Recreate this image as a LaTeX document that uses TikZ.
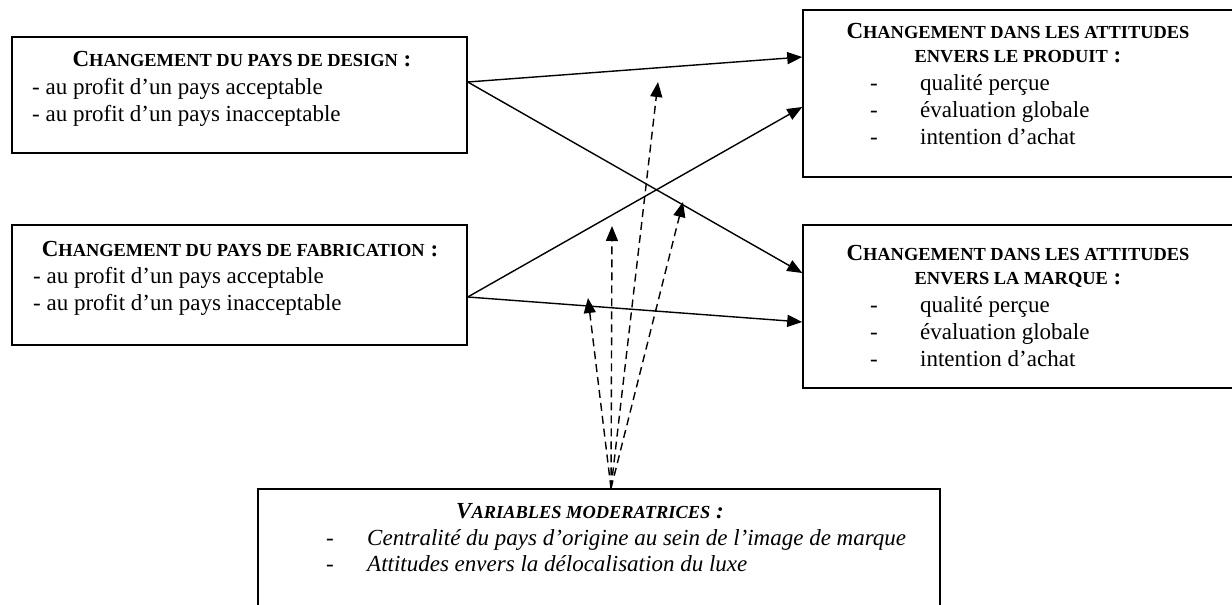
\documentclass[tikz,border=0pt]{standalone}
\usepackage{fontspec}
\setmainfont{Liberation Serif}
\usetikzlibrary{arrows.meta}
\newcommand\smc[1]{{\fontsize{18.4}{26}\selectfont #1}}
\begin{document}
\begin{tikzpicture}[x=1pt,y=-1pt,
  every node/.style={font=\fontsize{23}{26.5}\selectfont, inner sep=0pt},
  boxnode/.style={draw, line width=1.5pt, minimum width=#1},
  txt/.style={anchor=base west},
  ttl/.style={anchor=base, font=\fontsize{23}{26.5}\selectfont\bfseries},
  solidarrow/.style={line width=1.4pt, -{Triangle[length=15pt,width=12pt]}},
  dasharrow/.style={line width=1.4pt, dash pattern=on 8pt off 5pt, -{Triangle[length=15pt,width=12pt]}}
]
\useasboundingbox (0,0) rectangle (1232,605);
% boxes
\node[boxnode=455pt, minimum height=116pt] (b1) at (239.5,95) {};
\node[boxnode=455pt, minimum height=120pt] (b2) at (239.5,285) {};
\node[boxnode=437pt, minimum height=167pt] (b3) at (1021.5,93.5) {};
\node[boxnode=437pt, minimum height=163pt] (b4) at (1021.5,306.5) {};
\node[boxnode=682pt, minimum height=131pt] (b5) at (599,554.5) {};
% box 1 text
\node[ttl] (t1) at (242,66) {C\smc{HANGEMENT DU PAYS DE DESIGN} :};
\node[txt] (t1a) at (32,94) {- au profit d’un pays acceptable};
\node[txt] (t1b) at (32,121) {- au profit d’un pays inacceptable};
% box 2 text
\node[ttl] (t2) at (240,256) {C\smc{HANGEMENT DU PAYS DE FABRICATION} :};
\node[txt] (t2a) at (33,283) {- au profit d’un pays acceptable};
\node[txt] (t2b) at (33,310) {- au profit d’un pays inacceptable};
% box 3 text
\node[ttl] (t3) at (1018,38) {C\smc{HANGEMENT DANS LES ATTITUDES}};
\node[ttl] (t3b) at (1018,62) {\smc{ENVERS LE PRODUIT} :};
\node[txt] (d3a) at (870,90) {-};
\node[txt] (d3b) at (870,117) {-};
\node[txt] (d3c) at (870,144) {-};
\node[txt] (i3a) at (920,90) {qualité perçue};
\node[txt] (i3b) at (920,117) {évaluation globale};
\node[txt] (i3c) at (920,144) {intention d’achat};
% box 4 text
\node[ttl] (t4) at (1018,260) {C\smc{HANGEMENT DANS LES ATTITUDES}};
\node[ttl] (t4b) at (1018,284) {\smc{ENVERS LA MARQUE} :};
\node[txt] (d4a) at (870,312) {-};
\node[txt] (d4b) at (870,339) {-};
\node[txt] (d4c) at (870,366) {-};
\node[txt] (i4a) at (920,312) {qualité perçue};
\node[txt] (i4b) at (920,339) {évaluation globale};
\node[txt] (i4c) at (920,366) {intention d’achat};
% box 5 text
\node[ttl, font=\fontsize{23}{26.5}\selectfont\bfseries\itshape] (t5) at (590,518) {V\smc{ARIABLES MODERATRICES} :};
\node[txt] (d5a) at (326,545) {-};
\node[txt] (d5b) at (326,571) {-};
\node[txt, font=\fontsize{23}{26.5}\selectfont\itshape] (i5a) at (367,545) {Centralité du pays d’origine au sein de l’image de marque};
\node[txt, font=\fontsize{23}{26.5}\selectfont\itshape] (i5b) at (367,571) {Attitudes envers la délocalisation du luxe};
% solid arrows
\draw[solidarrow] ([yshift=13pt]b1.east) -- ([yshift=36.5pt]b3.west);
\draw[solidarrow] ([yshift=13pt]b1.east) -- ([yshift=33.5pt]b4.west);
\draw[solidarrow] ([yshift=-12pt]b2.east) -- ([yshift=-13.5pt]b3.west);
\draw[solidarrow] ([yshift=-12pt]b2.east) -- ([yshift=-15.5pt]b4.west);
% dashed arrows
\coordinate (m1) at (658,82);
\coordinate (m2) at (612,226);
\coordinate (m3) at (683,202);
\coordinate (m4) at (588,298);
\draw[dasharrow] ([xshift=12pt]b5.north) -- (m1);
\draw[dasharrow] ([xshift=12pt]b5.north) -- (m2);
\draw[dasharrow] ([xshift=12pt]b5.north) -- (m3);
\draw[dasharrow] ([xshift=12pt]b5.north) -- (m4);
\end{tikzpicture}
\end{document}
